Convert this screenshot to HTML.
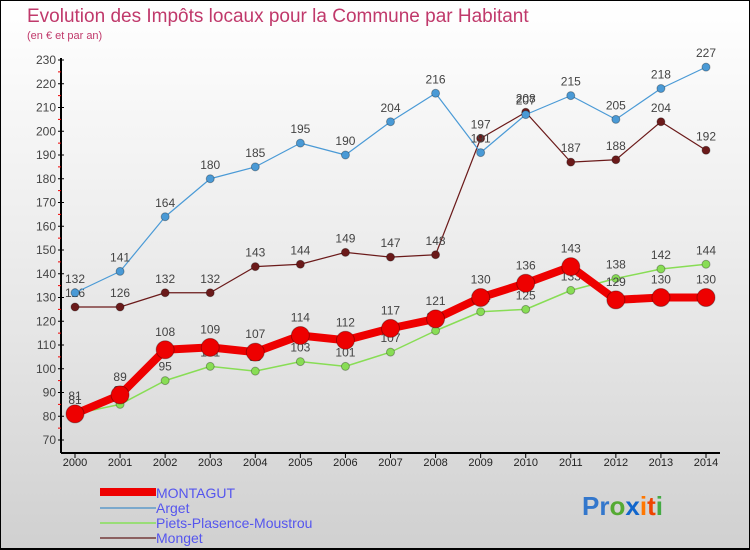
<!DOCTYPE html>
<html><head><meta charset="utf-8">
<style>
body{margin:0;width:750px;height:550px;overflow:hidden;font-family:"Liberation Sans",sans-serif}
#wrap{position:relative;width:748px;height:548px;border:1px solid #000;border-bottom:2px solid #000;background:linear-gradient(#fff 0%,#e6e6e6 60%,#d0d0d0 100%);box-sizing:content-box;height:547px}
</style></head><body>
<div id="wrap">
<svg id="c" width="750" height="550" xmlns="http://www.w3.org/2000/svg" style="position:absolute;left:-1px;top:-1px">
<text x="27" y="22" font-size="19" fill="#c0396b">Evolution des Impôts locaux pour la Commune par Habitant</text>
<text x="27" y="39" font-size="11" fill="#c0396b">(en € et par an)</text>
<g id="axes"></g><g id="series"></g>
<g font-size="14" fill="#5555ee">
<rect x="100" y="488" width="56" height="8" fill="#ee0000"/>
<text x="156" y="498">MONTAGUT</text>
<rect x="100" y="507" width="56" height="2" fill="#7aa8cc"/>
<text x="156" y="513">Arget</text>
<rect x="100" y="522" width="56" height="2" fill="#99dd77"/>
<text x="156" y="528">Piets-Plasence-Moustrou</text>
<rect x="100" y="537" width="56" height="2" fill="#8b6060"/>
<text x="156" y="543">Monget</text>
</g>
<g font-size="26" font-family="Liberation Sans" font-weight="bold">
<text x="582" y="515"><tspan fill="#3377cc">Pr</tspan><tspan fill="#55aa33">o</tspan><tspan fill="#1166cc">x</tspan><tspan fill="#ff7700">i</tspan><tspan fill="#ee4400">t</tspan><tspan fill="#44aa44">i</tspan></text>
</g>
</svg>
</div>
<script>
const years=[2000,2001,2002,2003,2004,2005,2006,2007,2008,2009,2010,2011,2012,2013,2014];
const montagut=[81,89,108,109,107,114,112,117,121,130,136,143,129,130,130];
const arget=[132,141,164,180,185,195,190,204,216,191,207,215,205,218,227];
const piets=[81,85,95,101,99,103,101,107,116,124,125,133,138,142,144];
const monget=[126,126,132,132,143,144,149,147,148,197,208,187,188,204,192];
const yTicks=[70,80,90,100,110,120,130,140,150,160,170,180,190,200,210,220,230];
const NS="http://www.w3.org/2000/svg";
const X=i=>75+i*(706-75)/(years.length-1);
const Y=v=>440-(v-70)*(380/160);
function mk(t,a,p){const e=document.createElementNS(NS,t);for(const k in a)e.setAttribute(k,a[k]);p.appendChild(e);return e;}
const ax=document.getElementById('axes'),sg=document.getElementById('series');
let e=mk('line',{x1:61,y1:Y(230)-2,x2:61,y2:453,stroke:'#000','stroke-width':2},ax);

e=mk('line',{x1:61,y1:453,x2:720,y2:453,stroke:'#000','stroke-width':2},ax);

yTicks.forEach(v=>{
 mk('line',{x1:58,y1:Y(v),x2:64,y2:Y(v),stroke:'#000'},ax);
 if(v<230)mk('line',{x1:58,y1:Y(v+5),x2:61,y2:Y(v+5),stroke:'#e00'},ax);
 const t=mk('text',{x:56,y:Y(v)+4,'font-size':12,'text-anchor':'end',fill:'#444'},ax);t.textContent=v;
 
});
years.forEach((y,i)=>{
 mk('line',{x1:X(i),y1:453,x2:X(i),y2:458,stroke:'#000'},ax);
 const t=mk('text',{x:X(i),y:466,'font-size':11,'text-anchor':'middle',fill:'#222'},ax);t.textContent=y;
 
});
function series(d,name,color,w,r){
 const g=mk('g',{},sg);
 mk('polyline',{points:d.map((v,i)=>X(i)+','+Y(v)).join(' '),fill:'none',stroke:color,'stroke-width':w,'stroke-linejoin':'round'},g);
 d.forEach((v,i)=>{
  const c=mk('circle',{cx:X(i),cy:Y(v),r:r,fill:color,stroke:'rgba(0,0,0,0.3)','stroke-width':1},g);
  
  const t=mk('text',{x:X(i),y:Y(v)-10-(r>6?4:0),'font-size':12,'text-anchor':'middle',fill:'#444'},g);t.textContent=v;
  
 });
}
series(monget,'monget','#6b1a1a',1.2,4);
series(arget,'arget','#4a9ad6',1.2,4);
series(piets,'piets','#88dd55',1.5,4);
series(montagut,'montagut','#ee0000',8,9);
</script>
</body></html>
